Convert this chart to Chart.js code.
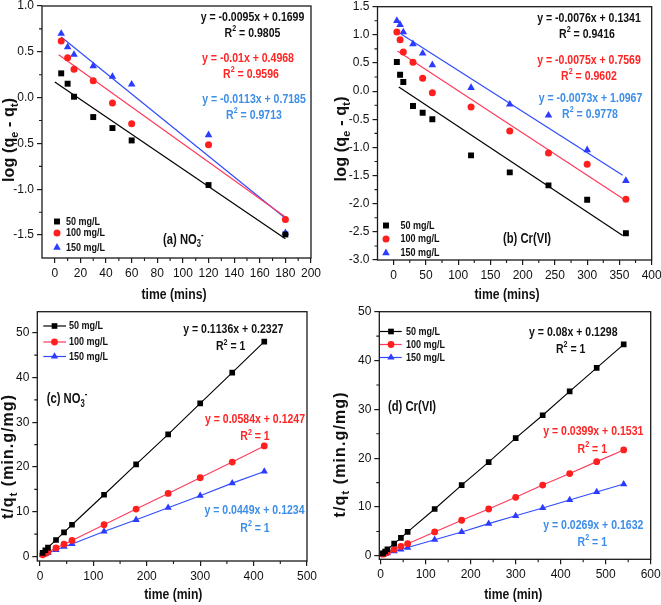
<!DOCTYPE html>
<html><head><meta charset="utf-8">
<script src="https://cdn.jsdelivr.net/npm/chart.js@4.4.1/dist/chart.umd.min.js"></script>
<style>
html,body{margin:0;padding:0;background:#fff;width:661px;height:605px;overflow:hidden}
canvas{position:absolute;left:0;top:0}
</style></head>
<body>
<canvas id="ca" width="661" height="605"></canvas>
<canvas id="cb" width="661" height="605"></canvas>
<canvas id="cc" width="661" height="605"></canvas>
<canvas id="cd" width="661" height="605"></canvas>
<script>
// ---------------- DATA ----------------
const concLabels = ['50 mg/L', '100 mg/L', '150 mg/L'];

// (a) pseudo-first-order, NO3-
const timeA = [5, 10, 15, 30, 45, 60, 120, 180];
const aLog50  = [0.265, 0.152, 0.010, -0.212, -0.332, -0.467, -0.954, -1.493];
const aLog100 = [0.618, 0.436, 0.309, 0.185, -0.059, -0.285, -0.514, -1.329];
const aLog150 = [0.698, 0.552, 0.469, 0.345, 0.229, 0.145, -0.408, -1.475];
const aSlope = [-0.0095, -0.01, -0.0113];
const aIntercept = [0.1699, 0.4968, 0.7185];
const aR2 = ['0.9805', '0.9596', '0.9713'];
const aFitFrom = [0, 3, 5];
const aFitTo = [180, 180, 180];
const aXTicks = [0, 20, 40, 60, 80, 100, 120, 140, 160, 180, 200];
const aYTicks = [-1.5, -1.0, -0.5, 0.0, 0.5, 1.0];

// (b) pseudo-first-order, Cr(VI)
const timeB = [5, 10, 15, 30, 45, 60, 120, 180, 240, 300, 360];
const bLog50  = [0.517, 0.292, 0.162, -0.264, -0.383, -0.501, -1.141, -1.443, -1.674, -1.928, -2.526];
const bLog100 = [1.05, 0.914, 0.695, 0.511, 0.227, -0.028, -0.282, -0.708, -1.099, -1.300, -1.922];
const bLog150 = [1.251, 1.18, 1.05, 0.837, 0.671, 0.464, 0.061, -0.235, -0.430, -1.046, -1.591];
const bSlope = [-0.0076, -0.0075, -0.0073];
const bIntercept = [0.1341, 0.7569, 1.0967];
const bR2 = ['0.9416', '0.9602', '0.9778'];
const bFitFrom = [8, 6, 12];
const bFitTo = [355, 355, 355];
const bXTicks = [0, 50, 100, 150, 200, 250, 300, 350, 400];
const bYTicks = [-3.0, -2.5, -2.0, -1.5, -1.0, -0.5, 0.0, 0.5, 1.0, 1.5];

// (c) pseudo-second-order, NO3-
const timeC = [5, 10, 15, 30, 45, 60, 120, 180, 240, 300, 360, 420];
const c50  = [0.8, 1.4, 2.0, 3.7, 5.4, 7.1, 13.8, 20.6, 27.3, 34.2, 41.1, 48.0];
const c100 = [0.4, 0.7, 1.0, 1.9, 2.75, 3.6, 7.1, 10.6, 14.1, 17.6, 21.1, 24.7];
const c150 = [0.35, 0.6, 0.8, 1.5, 2.2, 2.8, 5.6, 8.2, 10.9, 13.6, 16.4, 19.0];
const cSlope = [0.1136, 0.0584, 0.0449];
const cIntercept = [0.2327, 0.1247, 0.1234];
const cR2 = ['1', '1', '1'];
const cXTicks = [0, 100, 200, 300, 400, 500];
const cYTicks = [0, 10, 20, 30, 40, 50];

// (d) pseudo-second-order, Cr(VI)
const timeD = [5, 10, 15, 30, 45, 60, 120, 180, 240, 300, 360, 420, 480, 540];
const d50  = [0.5, 0.9, 1.35, 2.5, 3.7, 4.9, 9.6, 14.5, 19.2, 24.1, 28.8, 33.7, 38.5, 43.3];
const d100 = [0.35, 0.55, 0.75, 1.35, 1.95, 2.5, 4.9, 7.3, 9.6, 12.0, 14.5, 16.85, 19.3, 21.7];
const d150 = [0.3, 0.4, 0.55, 0.95, 1.35, 1.7, 3.3, 4.9, 6.6, 8.2, 9.8, 11.45, 13.1, 14.7];
const dSlope = [0.08, 0.0399, 0.0269];
const dIntercept = [0.1298, 0.1531, 0.1632];
const dR2 = ['1', '1', '1'];
const dXTicks = [0, 100, 200, 300, 400, 500, 600];
const dYTicks = [0, 10, 20, 30, 40, 50];

// ---------------- STYLE ----------------
const FONT = '"Liberation Sans", Arial, Helvetica, sans-serif';
const MARK = ['#000000', '#ff1f1f', '#2b3bff'];
const FITC = ['#000000', '#ff3a5c', '#2f4cff'];
const TXTC = ['#111111', '#ff2525', '#3d8ee8'];
const SHAPES = ['rect', 'circle', 'triangle'];

function pts(xs, ys) { return xs.map((x, i) => ({ x: x, y: ys[i] })); }
function mids(t) { const r = []; for (let i = 0; i < t.length - 1; i++) r.push((t[i] + t[i + 1]) / 2); return r; }

function marker(ctx, style, x, y, r, color) {
  ctx.fillStyle = color; ctx.beginPath();
  if (style === 'rect') { const h = r * Math.SQRT1_2; ctx.rect(x - h, y - h, 2 * h, 2 * h); }
  else if (style === 'circle') ctx.arc(x, y, r, 0, Math.PI * 2);
  else {
    for (let k = 0; k < 3; k++) {
      const ang = k * 2 * Math.PI / 3;
      const px = x + Math.sin(ang) * r, py = y - Math.cos(ang) * r;
      if (k) ctx.lineTo(px, py); else ctx.moveTo(px, py);
    }
    ctx.closePath();
  }
  ctx.fill();
}

function drawRich(ctx, it) {
  const size = it.size || 12, weight = it.weight || 'bold', sx = it.scaleX || 1;
  ctx.save();
  ctx.translate(it.x, it.y);
  if (it.rotate) ctx.rotate(it.rotate);
  ctx.scale(sx, 1);
  const fontFor = s => `${weight} ${(s.sub || s.sup) ? size * 0.68 : size}px ${FONT}`;
  const chars = [];
  it.segs.forEach(s => { for (const ch of s.t) chars.push({ ch: ch, s: s }); });
  const widths = chars.map(c => { ctx.font = fontFor(c.s); return ctx.measureText(c.ch).width; });
  const natural = widths.reduce((a, b) => a + b, 0);
  let spacing = 0;
  if (it.target) spacing = (it.target / sx - natural) / (chars.length - 1);
  const total = natural + spacing * (chars.length - 1);
  let cx = it.align === 'center' ? -total / 2 : 0;
  ctx.textBaseline = 'middle';
  ctx.textAlign = 'left';
  ctx.fillStyle = it.color || '#111';
  chars.forEach((c, i) => {
    ctx.font = fontFor(c.s);
    const dy = c.s.sub ? size * 0.3 : (c.s.sup ? -size * 0.33 : 0);
    ctx.fillText(c.ch, cx, dy);
    cx += widths[i] + spacing;
  });
  ctx.restore();
}

const deco = {
  id: 'deco',
  afterDraw(chart, args, o) {
    const ctx = chart.ctx, a = chart.chartArea, xs = chart.scales.x, ys = chart.scales.y;
    ctx.save();
    ctx.strokeStyle = '#1a1a1a'; ctx.lineWidth = 1.3;
    ctx.strokeRect(a.left, a.top, a.right - a.left, a.bottom - a.top);
    ctx.lineWidth = 1.1;
    ctx.beginPath();
    o.minorX.forEach(v => { const p = xs.getPixelForValue(v); ctx.moveTo(p, a.bottom); ctx.lineTo(p, a.bottom + 3); });
    o.minorY.forEach(v => { const p = ys.getPixelForValue(v); ctx.moveTo(a.left, p); ctx.lineTo(a.left - 3, p); });
    ctx.stroke();
    // legend
    const L = o.legend;
    L.items.forEach((di, k) => {
      const ds = chart.data.datasets[di];
      const y = L.ys[k];
      if (L.line) {
        ctx.strokeStyle = ds.borderColor; ctx.lineWidth = 1.2;
        ctx.beginPath(); ctx.moveTo(L.lineFrom, y); ctx.lineTo(L.lineTo, y); ctx.stroke();
      }
      marker(ctx, ds.pointStyle, L.mx, y, ds.pointRadius, ds.pointBackgroundColor);
      drawRich(ctx, { segs: [{ t: ds.label }], x: L.tx, y: y, size: 11, scaleX: 0.82, color: '#111' });
    });
    o.texts.forEach(t => drawRich(ctx, t));
    ctx.restore();
  }
};

function axisCfg(min, max, ticks, fmt, size, isX) {
  return {
    type: 'linear', min: min, max: max,
    afterBuildTicks: ax => { ax.ticks = ticks.map(v => ({ value: v })); },
    afterFit: ax => {
      if (isX) ax.height = size; else ax.width = size;
      ax.paddingTop = 0; ax.paddingBottom = 0; ax.paddingLeft = 0; ax.paddingRight = 0;
    },
    ticks: { font: { family: FONT, size: 12 }, color: '#111', padding: 3, autoSkip: false,
      maxRotation: 0, minRotation: 0, callback: v => fmt(v) },
    grid: { display: true, drawOnChartArea: false, drawTicks: true, tickLength: 5, color: '#1a1a1a', lineWidth: 1.2 },
    border: { display: false }
  };
}

function eqSegs(s, b) { return [{ t: 'y = ' + s + 'x + ' + b }]; }
function r2Segs(r) { return [{ t: 'R' }, { t: '2', sup: true }, { t: ' = ' + r }]; }
function annot(segs, x, y, k) { return { segs: segs, x: x, y: y, size: 13, scaleX: 0.81, align: 'center', color: TXTC[k] }; }

function makePanel(id, p) {
  new Chart(document.getElementById(id).getContext('2d'), {
    type: 'scatter',
    data: { datasets: p.datasets },
    options: {
      responsive: false, animation: false, devicePixelRatio: 1,
      layout: { padding: p.padding },
      plugins: { legend: { display: false }, tooltip: { enabled: false }, deco: p.deco },
      scales: { x: p.x, y: p.y }
    },
    plugins: [deco]
  });
}

// ---------- panels (a),(b): scatter + fitted lines ----------
function firstOrderDatasets(time, series, slope, icpt, from, to, rad) {
  const ds = [];
  series.forEach((vals, k) => {
    ds.push({ label: concLabels[k], data: pts(time, vals), showLine: false,
      pointStyle: SHAPES[k], pointRadius: rad[k], pointBackgroundColor: MARK[k],
      pointBorderWidth: 0, borderColor: MARK[k] });
  });
  series.forEach((vals, k) => {
    ds.push({ label: 'fit', data: [{ x: from[k], y: slope[k] * from[k] + icpt[k] }, { x: to[k], y: slope[k] * to[k] + icpt[k] }],
      showLine: true, pointRadius: 0, borderColor: FITC[k], borderWidth: 1.2 });
  });
  return ds;
}
function secondOrderDatasets(time, series, rad) {
  return series.map((vals, k) => ({ label: concLabels[k], data: pts(time, vals), showLine: true,
    pointStyle: SHAPES[k], pointRadius: rad[k], pointBackgroundColor: MARK[k], pointBorderWidth: 0,
    borderColor: FITC[k], borderWidth: 1.1 }));
}
const f1 = v => v.toFixed(1), f0 = v => String(v);
const radA = [4.2, 3.5, 4.4];
const radC = [4.0, 3.4, 4.2];
const PANEL_FONT = 15, PANEL_SX = 0.75, YT = 16;

makePanel('ca', {
  datasets: firstOrderDatasets(timeA, [aLog50, aLog100, aLog150], aSlope, aIntercept, aFitFrom, aFitTo, radA),
  padding: { left: 2, top: 6, right: 350, bottom: 307 },
  x: axisCfg(-10, 200, aXTicks, f0, 40, true),
  y: axisCfg(-1.75, 1.0, aYTicks, f1, 40, false),
  deco: {
    minorX: mids(aXTicks), minorY: mids(aYTicks),
    legend: { items: [0, 1, 2], mx: 57, tx: 66, ys: [221.5, 233, 247.5], line: false },
    texts: [
      annot(eqSegs(aSlope[0], aIntercept[0]), 252.5, 17.3, 0), annot(r2Segs(aR2[0]), 252.5, 33.3, 0),
      annot(eqSegs(aSlope[1], aIntercept[1]), 248, 58.3, 1), annot(r2Segs(aR2[1]), 251, 74, 1),
      annot(eqSegs(aSlope[2], aIntercept[2]), 254, 99.3, 2), annot(r2Segs(aR2[2]), 254, 115, 2),
      { segs: [{ t: '(a) NO' }, { t: '3', sub: true }, { t: '-', sup: true }], x: 163, y: 240, size: PANEL_FONT, scaleX: PANEL_SX, color: '#111' },
      { segs: [{ t: 'log (q' }, { t: 'e', sub: true }, { t: ' - q' }, { t: 't', sub: true }, { t: ')' }], x: 10, y: 140, size: YT, rotate: -Math.PI / 2, align: 'center', target: 84, color: '#111' },
      { segs: [{ t: 'time (mins)' }], x: 174, y: 295, size: 14, scaleX: 0.87, align: 'center', color: '#111' }
    ]
  }
});

makePanel('cb', {
  datasets: firstOrderDatasets(timeB, [bLog50, bLog100, bLog150], bSlope, bIntercept, bFitFrom, bFitTo, radA),
  padding: { left: 337.5, top: 6.7, right: 9.3, bottom: 305 },
  x: axisCfg(-25, 400, bXTicks, f0, 40, true),
  y: axisCfg(-3.0, 1.5, bYTicks, f1, 40, false),
  deco: {
    minorX: mids(bXTicks), minorY: mids(bYTicks),
    legend: { items: [0, 1, 2], mx: 386, tx: 400.5, ys: [225.5, 239, 253], line: false },
    texts: [
      annot(eqSegs(bSlope[0], bIntercept[0]), 589, 18.3, 0), annot(r2Segs(bR2[0]), 587, 34.3, 0),
      annot(eqSegs(bSlope[1], bIntercept[1]), 589, 60, 1), annot(r2Segs(bR2[1]), 589, 76, 1),
      annot(eqSegs(bSlope[2], bIntercept[2]), 590.5, 98.3, 2), annot(r2Segs(bR2[2]), 590, 114.3, 2),
      { segs: [{ t: '(b) Cr(VI)' }], x: 503, y: 239.3, size: PANEL_FONT, scaleX: PANEL_SX, color: '#111' },
      { segs: [{ t: 'log (q' }, { t: 'e', sub: true }, { t: ' - q' }, { t: 't', sub: true }, { t: ')' }], x: 341.7, y: 139, size: YT, rotate: -Math.PI / 2, align: 'center', target: 85, color: '#111' },
      { segs: [{ t: 'time (mins)' }], x: 507, y: 295, size: 14, scaleX: 0.87, align: 'center', color: '#111' }
    ]
  }
});

makePanel('cc', {
  datasets: secondOrderDatasets(timeC, [c50, c100, c150], radC),
  padding: { left: 7.3, top: 311.7, right: 354, bottom: 4 },
  x: axisCfg(-5, 500, cXTicks, f0, 40, true),
  y: axisCfg(-1, 54.7, cYTicks, f0, 30, false),
  deco: {
    minorX: mids(cXTicks), minorY: mids(cYTicks),
    legend: { items: [0, 1, 2], mx: 54.5, tx: 69, ys: [326, 342, 356.5], line: true, lineFrom: 43.3, lineTo: 66 },
    texts: [
      annot(eqSegs(cSlope[0], cIntercept[0]), 233.3, 329.3, 0), annot(r2Segs(cR2[0]), 230.7, 346.7, 0),
      annot(eqSegs(cSlope[1], cIntercept[1]), 255, 419, 1), annot(r2Segs(cR2[1]), 255, 436.7, 1),
      annot(eqSegs(cSlope[2], cIntercept[2]), 254.5, 510.7, 2), annot(r2Segs(cR2[2]), 255, 528.3, 2),
      { segs: [{ t: '(c) NO' }, { t: '3', sub: true }, { t: '-', sup: true }], x: 46.7, y: 399.3, size: PANEL_FONT, scaleX: PANEL_SX, color: '#111' },
      { segs: [{ t: 't/q' }, { t: 't', sub: true }, { t: ' (min.g/mg)' }], x: 9, y: 457, size: YT, rotate: -Math.PI / 2, align: 'center', target: 124, color: '#111' },
      { segs: [{ t: 'time (min)' }], x: 173.3, y: 595, size: 14, scaleX: 0.87, align: 'center', color: '#111' }
    ]
  }
});

makePanel('cd', {
  datasets: secondOrderDatasets(timeD, [d50, d100, d150], radC),
  padding: { left: 339.3, top: 311.7, right: 10.3, bottom: 5.7 },
  x: axisCfg(-3, 600, dXTicks, f0, 40, true),
  y: axisCfg(-0.7, 50, dYTicks, f0, 40, false),
  deco: {
    minorX: mids(dXTicks), minorY: mids(dYTicks),
    legend: { items: [0, 1, 2], mx: 391, tx: 406, ys: [331.5, 344.5, 357.5], line: true, lineFrom: 380, lineTo: 401.7 },
    texts: [
      annot(eqSegs(dSlope[0], dIntercept[0]), 573.3, 332.3, 0), annot(r2Segs(dR2[0]), 570.7, 349, 0),
      annot(eqSegs(dSlope[1], dIntercept[1]), 593.3, 431.7, 1), annot(r2Segs(dR2[1]), 592.3, 449, 1),
      annot(eqSegs(dSlope[2], dIntercept[2]), 593.3, 525, 2), annot(r2Segs(dR2[2]), 592.3, 542.3, 2),
      { segs: [{ t: '(d) Cr(VI)' }], x: 388, y: 406.7, size: PANEL_FONT, scaleX: PANEL_SX, color: '#111' },
      { segs: [{ t: 't/q' }, { t: 't', sub: true }, { t: ' (min.g/mg)' }], x: 341, y: 455, size: YT, rotate: -Math.PI / 2, align: 'center', target: 125, color: '#111' },
      { segs: [{ t: 'time (min)' }], x: 513.3, y: 595, size: 14, scaleX: 0.87, align: 'center', color: '#111' }
    ]
  }
});
</script>
</body></html>
